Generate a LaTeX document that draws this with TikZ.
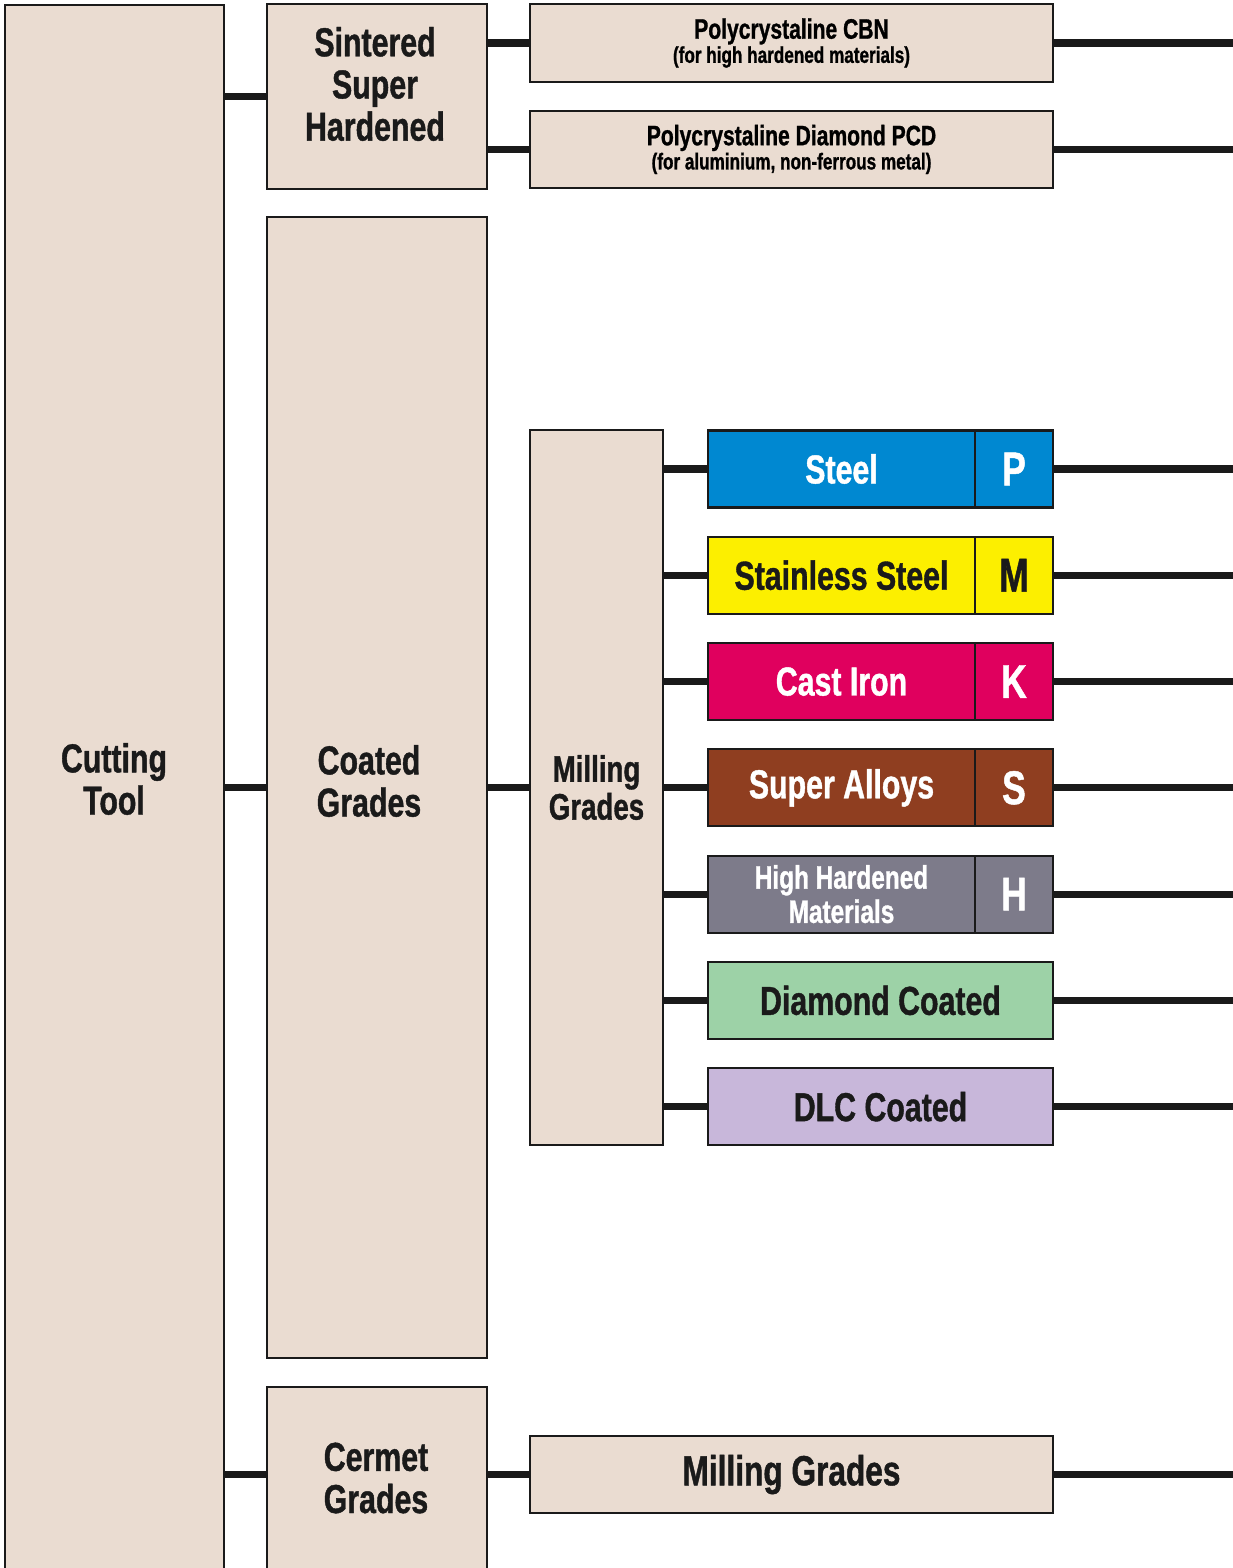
\documentclass[tikz,border=0pt]{standalone}
\usepackage{fontspec}
\setmainfont[FakeStretch=0.75, BoldFeatures={FakeBold=1}]{Liberation Sans}
\usepackage{xcolor}
\usepackage{tikz}
\usetikzlibrary{positioning,calc}
\definecolor{boxfill}{RGB}{234,220,209}
\definecolor{linecol}{RGB}{26,26,26}
\definecolor{steelblue}{RGB}{0,136,209}
\definecolor{stainyellow}{RGB}{252,239,0}
\definecolor{castmagenta}{RGB}{224,0,94}
\definecolor{alloybrown}{RGB}{143,62,32}
\definecolor{hardgray}{RGB}{125,123,138}
\definecolor{diamondgreen}{RGB}{157,210,167}
\definecolor{dlcviolet}{RGB}{200,183,218}
\newcommand{\fs}[2]{\fontsize{#1}{#2}\selectfont\bfseries}

\begin{document}
\begin{tikzpicture}[
  x=0.02cm, y=-0.02cm,
  box/.style={draw=linecol, line width=1.2pt, fill=boxfill, outer sep=0pt, inner sep=0pt},
  mat/.style={draw=linecol, line width=1.2pt, outer sep=0pt, inner sep=0pt, minimum width=5.34cm, minimum height=1.54cm, font=\fs{23}{24}, align=center},
  letter/.style={draw=linecol, line width=1.2pt, outer sep=0pt, inner sep=0pt, minimum width=1.56cm, minimum height=1.54cm, font=\fs{27}{28}},
  wide/.style={draw=linecol, line width=1.2pt, outer sep=0pt, inner sep=0pt, minimum width=6.9cm, minimum height=1.54cm, font=\fs{23}{24}},
  big/.style={font=\fs{23}{24}, align=center, text=linecol},
  conn/.style={line width=4pt, draw=linecol},
]
\path[fill=white] (0,0) rectangle (1233,1568);
\useasboundingbox (0,0) rectangle (1233,1568);

% first column
\node[box, minimum width=4.38cm, minimum height=31.9cm] (cutting) at (114.5,802.5) {};
\node[big] (cuttingtxt) at (114,779) {Cutting\\Tool};

% second column
\node[box, minimum width=4.4cm, minimum height=3.7cm] (sintered) at (377,96.5) {};
\node[big] (sinteredtxt) at (375,84) {Sintered\\Super\\Hardened};
\node[box, minimum width=4.4cm, minimum height=22.82cm] (coated) at (377,787.5) {};
\node[big] (coatedtxt) at (369,781) {Coated\\Grades};
\node[box, minimum width=4.4cm, minimum height=4.26cm] (cermet) at (377,1493.5) {};
\node[big] (cermettxt) at (376,1478) {Cermet\\Grades};

% third column
\node[box, minimum width=10.46cm, minimum height=1.56cm, align=center] (pcbn) at (791.5,43)
  {{\fs{16}{15}Polycrystaline CBN}\\{\fs{13}{14}(for high hardened materials)}};
\node[box, minimum width=10.46cm, minimum height=1.54cm, align=center] (pcd) at (791.5,149.5)
  {{\fs{16}{15}Polycrystaline Diamond PCD}\\{\fs{13}{14}(for aluminium, non-ferrous metal)}};
\node[box, minimum width=2.66cm, minimum height=14.3cm, font=\fs{21}{21.5}, align=center, text=linecol] (milling) at (596.5,787.5) {Milling\\Grades};
\node[box, font=\fs{24}{26}, text=linecol, minimum width=10.46cm, minimum height=1.54cm] (cermill) at (791.5,1474.5) {Milling Grades};

% material groups
\node[mat, fill=steelblue, text=white] (steel) at (841.5,469) {Steel};
\node[letter, fill=steelblue, text=white, anchor=west] (p) at (steel.east) {P};
\node[mat, fill=stainyellow, text=linecol, below=0.586cm of steel] (stainless) {Stainless Steel};
\node[letter, fill=stainyellow, text=linecol, anchor=west] (m) at (stainless.east) {M};
\node[mat, fill=castmagenta, text=white, below=0.586cm of stainless] (cast) {Cast Iron};
\node[letter, fill=castmagenta, text=white, anchor=west] (k) at (cast.east) {K};
\node[mat, fill=alloybrown, text=white, below=0.586cm of cast] (alloys) {Super Alloys};
\node[letter, fill=alloybrown, text=white, anchor=west] (s) at (alloys.east) {S};
\node[mat, fill=hardgray, text=white, font=\fs{18.5}{19.5}, below=0.586cm of alloys] (hard) {High Hardened\\Materials};
\node[letter, fill=hardgray, text=white, anchor=west] (h) at (hard.east) {H};
\node[wide, fill=diamondgreen, text=linecol, below=0.586cm of hard.south west, anchor=north west] (diamond) {Diamond Coated};
\node[wide, fill=dlcviolet, text=linecol, below=0.586cm of diamond] (dlc) {DLC Coated};

\coordinate (edge) at (1240,0);

% connectors
\draw[conn] (cutting.east |- sintered) -- (sintered.west);
\draw[conn] (cutting.east |- coated) -- (coated.west);
\draw[conn] (cutting.east |- cermill) -- (cermet.west |- cermill);
\draw[conn] (sintered.east |- pcbn) -- (pcbn.west);
\draw[conn] (sintered.east |- pcd) -- (pcd.west);
\draw[conn] (coated.east |- milling) -- (milling.west);
\draw[conn] (cermet.east |- cermill) -- (cermill.west);
\draw[conn] (milling.east |- steel) -- (steel.west);
\draw[conn] (milling.east |- stainless) -- (stainless.west);
\draw[conn] (milling.east |- cast) -- (cast.west);
\draw[conn] (milling.east |- alloys) -- (alloys.west);
\draw[conn] (milling.east |- hard) -- (hard.west);
\draw[conn] (milling.east |- diamond) -- (diamond.west);
\draw[conn] (milling.east |- dlc) -- (dlc.west);

\draw[conn] (pcbn.east) -- (pcbn.east -| edge);
\draw[conn] (pcd.east) -- (pcd.east -| edge);
\draw[conn] (p.east) -- (p.east -| edge);
\draw[conn] (m.east) -- (m.east -| edge);
\draw[conn] (k.east) -- (k.east -| edge);
\draw[conn] (s.east) -- (s.east -| edge);
\draw[conn] (h.east) -- (h.east -| edge);
\draw[conn] (diamond.east) -- (diamond.east -| edge);
\draw[conn] (dlc.east) -- (dlc.east -| edge);
\draw[conn] (cermill.east) -- (cermill.east -| edge);

\end{tikzpicture}
\end{document}
